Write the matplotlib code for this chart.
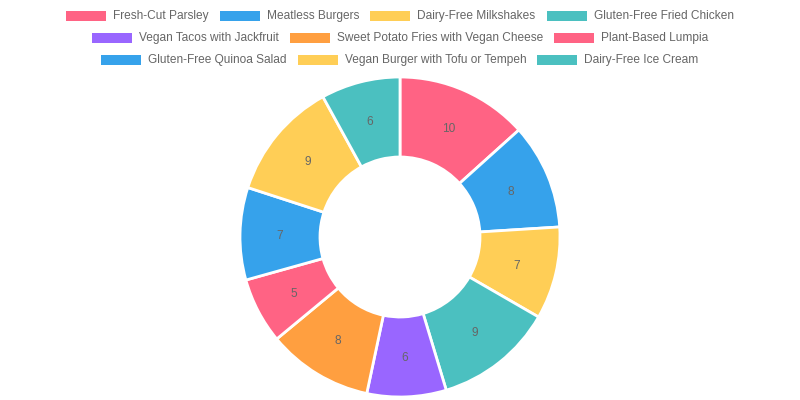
"""
    Doughnut chart of vegan dishes
"""
import matplotlib
matplotlib.use('Agg')
import matplotlib.pyplot as plt
from matplotlib.patches import Rectangle
import numpy as np

plt.rcParams['font.family'] = ['Liberation Sans', 'DejaVu Sans']

dishes = [
    "Fresh-Cut Parsley",
    "Meatless Burgers",
    "Dairy-Free Milkshakes",
    "Gluten-Free Fried Chicken",
    "Vegan Tacos with Jackfruit",
    "Sweet Potato Fries with Vegan Cheese",
    "Plant-Based Lumpia",
    "Gluten-Free Quinoa Salad",
    "Vegan Burger with Tofu or Tempeh",
    "Dairy-Free Ice Cream",
]
counts = [10, 8, 7, 9, 6, 8, 5, 7, 9, 6]
palette = ['#FF6384', '#36A2EB', '#FFCE56', '#4BC0C0', '#9966FF', '#FF9F40']
colors = [palette[i % len(palette)] for i in range(len(dishes))]
legend_rows = [[0, 1, 2, 3], [4, 5, 6], [7, 8, 9]]

W, H = 800, 400
fig = plt.figure(figsize=(W / 100, H / 100), dpi=100)

# doughnut: centre (400, 237) px, radius 160 px
cx, cy, r = 400, 237, 160
ax = fig.add_axes([(cx - r) / W, (H - cy - r) / H, 2 * r / W, 2 * r / H])
wedges, _ = ax.pie(counts, colors=colors, startangle=90, counterclock=False,
                   radius=1, wedgeprops=dict(width=0.5, edgecolor='white',
                                             linewidth=2))
total = sum(counts)
acc = 0
for v in counts:
    mid = 90 - 360 * (acc + v / 2) / total
    acc += v
    ax.text(0.75 * np.cos(np.radians(mid)), 0.75 * np.sin(np.radians(mid)),
            str(v), ha='center', va='center_baseline', fontsize=8.6,
            color='#666666')
ax.set_xlim(-1, 1)
ax.set_ylim(-1, 1)
ax.set_aspect('equal')
ax.axis('off')

# legend drawn by hand, Chart.js style
renderer = fig.canvas.get_renderer()
fsize = 8.6
box_w, box_h, gap, pad = 40, 10, 7, 11
row_y = [16, 38, 60]


def text_width(s):
    t = fig.text(0, 0, s, fontsize=fsize)
    w = t.get_window_extent(renderer).width
    t.remove()
    return w


for row, y in zip(legend_rows, row_y):
    widths = [box_w + gap + text_width(dishes[i]) for i in row]
    total_w = sum(widths) + pad * (len(row) - 1)
    x = W / 2 - total_w / 2
    for i, w in zip(row, widths):
        fig.patches.append(Rectangle((x / W, (H - y - box_h / 2) / H),
                                     box_w / W, box_h / H,
                                     transform=fig.transFigure,
                                     facecolor=colors[i], edgecolor='none'))
        fig.text((x + box_w + gap) / W, (H - y) / H, dishes[i],
                 fontsize=fsize, color='#666666', va='center', ha='left')
        x += w + pad

fig.savefig('out.png', dpi=100)
